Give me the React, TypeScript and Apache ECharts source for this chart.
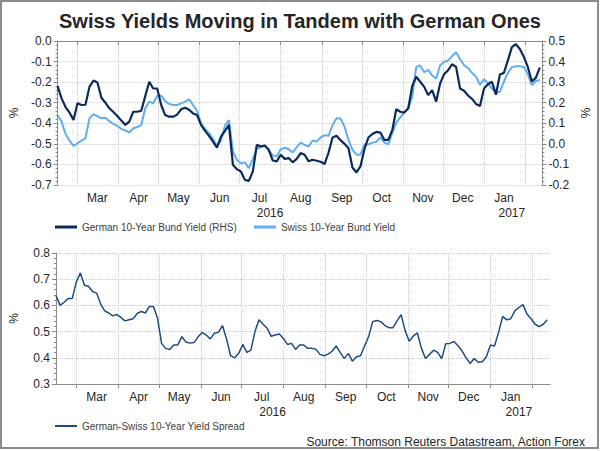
import React, { useEffect, useRef } from "react";
import * as echarts from "echarts";

const FONT = '"Liberation Sans", Arial, Helvetica, sans-serif';
const TITLE = "Swiss Yields Moving in Tandem with German Ones";
const SOURCE = "Source: Thomson Reuters Datastream, Action Forex";
const GERMAN_NAME = "German 10-Year Bund Yield (RHS)";
const SWISS_NAME = "Swiss 10-Year Bund Yield";
const SPREAD_NAME = "German-Swiss 10-Year Yield Spread";

const MONTH_NAMES = ["Jan", "Feb", "Mar", "Apr", "May", "Jun", "Jul", "Aug", "Sep", "Oct", "Nov", "Dec"];
const YEAR_LABELS: Record<string, string> = { "2016-07-24": "2016", "2017-01-22": "2017" };
const START = "2016-02-15";
const AXIS_DAYS_COUNT = 366; // 2016-02-15 .. 2017-02-14 daily
const SAMPLE_STEP = 3; // readings every 3 calendar days

// German 10Y (right axis), every 3 days from 2016-02-15
const german = [
  0.281, 0.221, 0.179, 0.152, 0.116, 0.197, 0.189, 0.19, 0.277, 0.308,
  0.298, 0.224, 0.2, 0.173, 0.155, 0.135, 0.113, 0.092, 0.108, 0.156,
  0.156, 0.161, 0.232, 0.302, 0.269, 0.269, 0.189, 0.14, 0.132, 0.132,
  0.142, 0.168, 0.176, 0.166, 0.148, 0.14, 0.092, 0.063, 0.039, 0.011,
  -0.018, 0.035, 0.063, 0.092, -0.102, -0.123, -0.134, -0.175, -0.18, -0.134,
  -0.005, -0.013, -0.008, -0.029, -0.081, -0.085, -0.053, -0.073, -0.069, -0.09,
  -0.073, -0.045, -0.053, -0.085, -0.077, -0.082, -0.087, -0.098, -0.042, 0.031,
  0.039, 0.018, 0.0, -0.021, -0.115, -0.139, -0.11, -0.026, 0.031, 0.048,
  0.058, 0.055, 0.019, 0.019, 0.068, 0.168, 0.156, 0.152, 0.173, 0.281,
  0.326, 0.302, 0.277, 0.237, 0.261, 0.205, 0.294, 0.339, 0.358, 0.387,
  0.374, 0.269, 0.258, 0.235, 0.219, 0.194, 0.184, 0.269, 0.29, 0.302,
  0.239, 0.337, 0.345, 0.406, 0.47, 0.485, 0.461, 0.423, 0.374, 0.303,
  0.321, 0.371,
];

// Swiss 10Y (left axis)
const swiss = [
  -0.361, -0.392, -0.452, -0.484, -0.51, -0.497, -0.484, -0.473, -0.376, -0.356,
  -0.365, -0.376, -0.373, -0.39, -0.403, -0.413, -0.427, -0.435, -0.445, -0.424,
  -0.418, -0.408, -0.327, -0.295, -0.303, -0.266, -0.266, -0.292, -0.306, -0.311,
  -0.311, -0.303, -0.295, -0.284, -0.311, -0.339, -0.4, -0.427, -0.448, -0.477,
  -0.51, -0.484, -0.411, -0.385, -0.537, -0.577, -0.594, -0.59, -0.618, -0.574,
  -0.524, -0.516, -0.51, -0.532, -0.556, -0.561, -0.526, -0.519, -0.526, -0.542,
  -0.516, -0.494, -0.505, -0.513, -0.484, -0.489, -0.469, -0.458, -0.461, -0.408,
  -0.376, -0.377, -0.416, -0.481, -0.529, -0.552, -0.553, -0.502, -0.503, -0.494,
  -0.489, -0.468, -0.494, -0.502, -0.448, -0.397, -0.371, -0.347, -0.329, -0.271,
  -0.126, -0.119, -0.152, -0.14, -0.168, -0.182, -0.118, -0.102, -0.094, -0.074,
  -0.055, -0.089, -0.118, -0.132, -0.155, -0.174, -0.213, -0.185, -0.206, -0.231,
  -0.252, -0.247, -0.198, -0.155, -0.127, -0.123, -0.123, -0.126, -0.161, -0.215,
  -0.194, -0.19,
];

// German-Swiss spread
const spread = [
  0.638, 0.6, 0.612, 0.626, 0.626, 0.69, 0.724, 0.677, 0.673, 0.653,
  0.647, 0.605, 0.579, 0.571, 0.56, 0.565, 0.554, 0.541, 0.545, 0.549,
  0.569, 0.577, 0.571, 0.596, 0.596, 0.551, 0.455, 0.436, 0.432, 0.449,
  0.449, 0.481, 0.46, 0.456, 0.458, 0.48, 0.497, 0.487, 0.472, 0.494,
  0.497, 0.523, 0.472, 0.408, 0.4, 0.417, 0.451, 0.421, 0.429, 0.5,
  0.545, 0.528, 0.513, 0.482, 0.487, 0.491, 0.474, 0.451, 0.455, 0.432,
  0.449, 0.449, 0.436, 0.436, 0.433, 0.413, 0.408, 0.414, 0.425, 0.445,
  0.421, 0.397, 0.417, 0.387, 0.404, 0.408, 0.445, 0.481, 0.538, 0.542,
  0.538, 0.523, 0.515, 0.515, 0.541, 0.565, 0.503, 0.463, 0.483, 0.495,
  0.436, 0.397, 0.413, 0.429, 0.421, 0.397, 0.454, 0.455, 0.462, 0.446,
  0.426, 0.4, 0.378, 0.397, 0.383, 0.385, 0.404, 0.449, 0.445, 0.497,
  0.558, 0.545, 0.549, 0.579, 0.592, 0.603, 0.567, 0.549, 0.528, 0.519,
  0.528, 0.545,
];

function buildDays(start: string, count: number, step: number): string[] {
  const out: string[] = [];
  const t0 = Date.parse(start + "T00:00:00Z");
  for (let i = 0; i < count; i++) {
    const d = new Date(t0 + i * step * 86400000);
    out.push(d.toISOString().slice(0, 10));
  }
  return out;
}

const axisDays = buildDays(START, AXIS_DAYS_COUNT, 1);
const sampleDates = buildDays(START, german.length, SAMPLE_STEP);

const isMonthStart = (_i: number, v: string) => v.slice(8, 10) === "01";
const isMidMonth = (i: number, v: string) => v.slice(8, 10) === "16" && i > 5;
const monthName = (v: string) => MONTH_NAMES[parseInt(v.slice(5, 7), 10) - 1];
const isYearLabel = (_i: number, v: string) => v in YEAR_LABELS;
const yearName = (v: string) => YEAR_LABELS[v] || "";
const fmt1 = (v: number) => (Math.abs(v) < 1e-9 ? "0.0" : v.toFixed(1));

const AXIS_COLOR = "#8a8a8a";
const GRID_COLOR = "#c9c9c9";
const TEXT_COLOR = "#262626";

function monthAxis(gridIndex: number) {
  return {
    gridIndex,
    type: "category",
    data: axisDays,
    boundaryGap: false,
    axisLine: { show: true, lineStyle: { color: AXIS_COLOR, width: 1 } },
    axisTick: { show: true, interval: isMonthStart, length: 4, lineStyle: { color: AXIS_COLOR } },
    axisLabel: {
      interval: isMidMonth,
      formatter: monthName,
      margin: 7,
      fontSize: 12,
      fontFamily: FONT,
      color: TEXT_COLOR,
    },
    splitLine: { show: true, interval: isMonthStart, lineStyle: { type: "dotted", color: GRID_COLOR } },
  };
}

function yearAxis(gridIndex: number) {
  return {
    gridIndex,
    type: "category",
    data: axisDays,
    boundaryGap: false,
    position: "bottom",
    offset: 15,
    axisLine: { show: false },
    axisTick: { show: false },
    splitLine: { show: false },
    axisLabel: {
      interval: isYearLabel,
      formatter: yearName,
      margin: 7,
      fontSize: 12,
      fontFamily: FONT,
      color: TEXT_COLOR,
    },
  };
}

function valueAxis(gridIndex: number, min: number, max: number, position: string, showSplit: boolean) {
  return {
    gridIndex,
    type: "value",
    min,
    max,
    interval: 0.1,
    position,
    name: "%",
    nameLocation: "middle",
    nameGap: 36,
    nameRotate: 90,
    nameTextStyle: { fontSize: 12, fontFamily: FONT, color: TEXT_COLOR },
    axisLine: { show: true, lineStyle: { color: AXIS_COLOR } },
    axisTick: { show: true, length: 4, lineStyle: { color: AXIS_COLOR } },
    minorTick: { show: true, splitNumber: 5, length: 2, lineStyle: { color: AXIS_COLOR } },
    axisLabel: { formatter: fmt1, margin: 6, fontSize: 12, fontFamily: FONT, color: TEXT_COLOR },
    splitLine: { show: showSplit, lineStyle: { type: "dotted", color: GRID_COLOR } },
    minorSplitLine: { show: false },
  };
}

export default function App() {
  const ref = useRef<HTMLDivElement>(null);

  useEffect(() => {
    if (!ref.current) return;
    const chart = echarts.init(ref.current, undefined, { renderer: "svg" });
    const option: any = {
      animation: false,
      backgroundColor: "#ffffff",
      textStyle: { fontFamily: FONT },
      title: {
        text: TITLE,
        left: "center",
        top: 6,
        textStyle: { fontSize: 20, fontWeight: "bold", fontFamily: FONT, color: "#262626" },
      },
      grid: [
        { left: 50, right: 50, top: 41, height: 144 },
        { left: 50, right: 50, top: 253, height: 131 },
      ],
      xAxis: [
        monthAxis(0),
        yearAxis(0),
        {
          gridIndex: 0,
          type: "category",
          data: axisDays,
          boundaryGap: false,
          position: "top",
          axisLine: { show: true, lineStyle: { color: AXIS_COLOR } },
          axisTick: { show: false },
          axisLabel: { show: false },
          splitLine: { show: false },
        },
        monthAxis(1),
        yearAxis(1),
      ],
      yAxis: [
        valueAxis(0, -0.7, 0, "left", true),
        valueAxis(0, -0.2, 0.5, "right", false),
        valueAxis(1, 0.3, 0.8, "left", true),
      ],
      legend: [
        {
          data: [GERMAN_NAME, SWISS_NAME],
          left: 50,
          top: 217,
          icon: "rect",
          itemWidth: 22,
          itemHeight: 3,
          itemGap: 17,
          textStyle: { fontSize: 10, fontFamily: FONT, color: "#404040" },
        },
        {
          data: [SPREAD_NAME],
          left: 50,
          top: 416,
          icon: "rect",
          itemWidth: 22,
          itemHeight: 2,
          textStyle: { fontSize: 10, fontFamily: FONT, color: "#404040" },
        },
      ],
      series: [
        {
          name: SWISS_NAME,
          type: "line",
          xAxisIndex: 0,
          yAxisIndex: 0,
          symbol: "none",
          color: "#5eaef2",
          lineStyle: { width: 2, color: "#5eaef2" },
          data: sampleDates.map((d, i) => [d, swiss[i]]),
          z: 2,
        },
        {
          name: GERMAN_NAME,
          type: "line",
          xAxisIndex: 0,
          yAxisIndex: 1,
          symbol: "none",
          color: "#0b2a5c",
          lineStyle: { width: 2.2, color: "#0b2a5c" },
          data: sampleDates.map((d, i) => [d, german[i]]),
          z: 3,
        },
        {
          name: SPREAD_NAME,
          type: "line",
          xAxisIndex: 3,
          yAxisIndex: 2,
          symbol: "none",
          color: "#1d4b85",
          lineStyle: { width: 1.5, color: "#1d4b85" },
          data: sampleDates.map((d, i) => [d, spread[i]]),
        },
      ],
      graphic: [
        {
          type: "rect",
          shape: { x: 1, y: 1, width: 597, height: 447 },
          style: { fill: "none", stroke: "#8c8c8c", lineWidth: 2 },
          silent: true,
        },
        {
          type: "text",
          x: 585,
          y: 442,
          style: {
            text: SOURCE,
            fill: TEXT_COLOR,
            font: '12px "Liberation Sans", Arial, sans-serif',
            align: "right",
            verticalAlign: "middle",
          },
        },
      ],
    };
    chart.setOption(option);
    return () => chart.dispose();
  }, []);

  return (
    <div
      ref={ref}
      style={{ position: "fixed", left: 0, top: 0, width: 600, height: 451, background: "#fff" }}
    />
  );
}
